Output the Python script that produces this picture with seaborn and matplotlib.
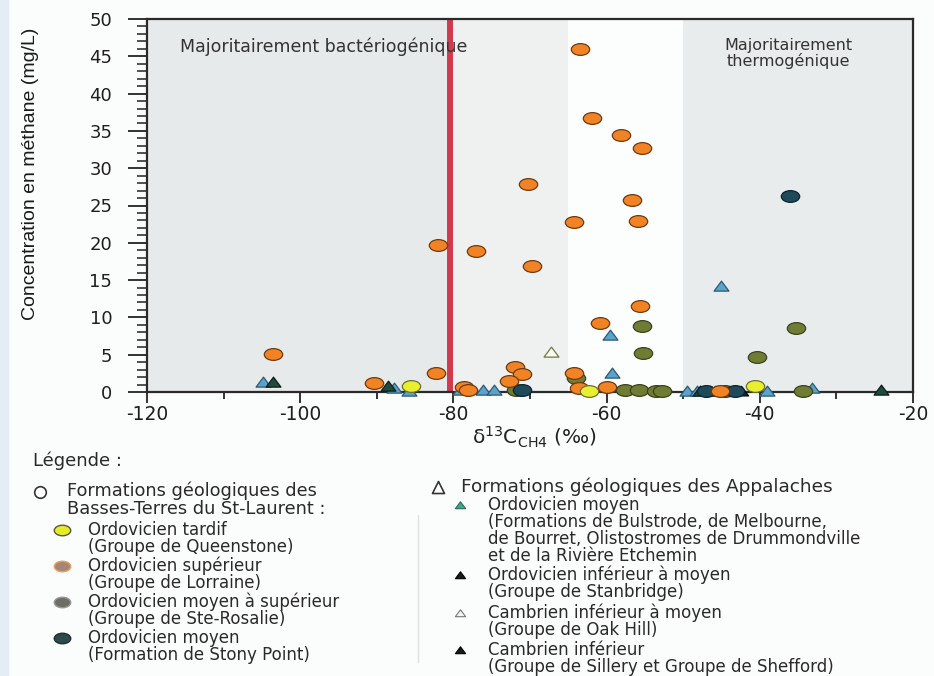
import numpy as np
import pandas as pd
import matplotlib
matplotlib.use("Agg")
import matplotlib.pyplot as plt
from matplotlib.path import Path
from matplotlib.patches import Rectangle
from matplotlib.ticker import MultipleLocator
import seaborn as sns

# ---- data: delta13C of methane (permil) vs methane concentration (mg/L) ----
queenstone_x = [-85.5, -62.3, -40.6]
queenstone_y = [0.8, 0.1, 0.8]

lorraine_x = [-63.5, -61.9, -58.1, -55.4, -70.2, -56.7, -64.3, -55.9, -82.0, -77.0,
              -69.7, -55.6, -60.9, -103.6, -82.3, -72.0, -71.1, -72.8, -90.4, -78.6,
              -64.3, -63.6, -60.0, -78.1, -45.2]
lorraine_y = [46.0, 36.7, 34.4, 32.7, 27.9, 25.7, 22.8, 22.9, 19.7, 18.9,
              16.9, 11.5, 9.2, 5.1, 2.6, 3.4, 2.4, 1.5, 1.2, 0.7,
              2.5, 0.6, 0.7, 0.3, 0.2]

rosalie_x = [-55.4, -55.3, -35.3, -40.4, -64.0, -57.6, -55.8, -53.5, -52.8, -34.4, -71.8, -44.5]
rosalie_y = [8.8, 5.2, 8.6, 4.7, 1.9, 0.3, 0.3, 0.2, 0.2, 0.2, 0.3, 0.2]

stony_x = [-36.0, -71.0, -43.2, -47.0]
stony_y = [26.3, 0.3, 0.2, 0.2]

app_moyen_x = [-104.9, -87.8, -85.8, -79.2, -76.1, -74.7, -59.6, -59.3, -45.0,
               -53.0, -49.5, -48.2, -46.5, -39.0, -33.2]
app_moyen_y = [1.3, 0.5, 0.2, 0.3, 0.3, 0.3, 7.6, 2.5, 14.2,
               0.2, 0.2, 0.2, 0.2, 0.1, 0.5]

stanbridge_x = [-103.5, -88.6, -24.2, -47.8]
stanbridge_y = [1.4, 0.8, 0.3, 0.2]

oakhill_x = [-67.2]
oakhill_y = [5.4]

sillery_x = [-45.8, -42.5]
sillery_y = [0.2, 0.2]

x_ticks = [-120, -100, -80, -60, -40, -20]
y_ticks = [0, 5, 10, 15, 20, 25, 30, 35, 40, 45, 50]

W, H = 934, 676
DPI = 100

sns.set_theme(style="white")
plt.rcParams["font.family"] = ["DejaVu Sans"]

fig = plt.figure(figsize=(W / DPI, H / DPI), dpi=DPI)
fig.patch.set_facecolor("#fbfcfc")
# pale blue strip on the left edge of the figure
fig.patches.append(Rectangle((0, 0), 8 / W, 1, transform=fig.transFigure,
                             color="#e2edf5", zorder=0))


def fx(px):
    return px / W


def fy(py):
    return 1 - py / H


ax = fig.add_axes([fx(147), fy(392), fx(913) - fx(147), fy(19) - fy(392)])
ax.set_facecolor("#fbfcfc")

# shaded zones of the diagram
ax.axvspan(-120, -80.5, color="#e7eaea", lw=0, zorder=0)
ax.axvspan(-80.5, -65, color="#eff1f1", lw=0, zorder=0)
ax.axvspan(-65, -50, color="#fcfdfd", lw=0, zorder=0)
ax.axvspan(-50, -20, color="#e9ecec", lw=0, zorder=0)

# boundary between bacterial and thermogenic methane
ax.axvline(-80.5, color="#cf3b4c", lw=4.3, zorder=2)

# flattened markers
circ = Path.unit_circle()
ellipse = Path(circ.vertices * np.array([1.0, 0.64]), circ.codes)
tri = Path([(-1.0, -0.62), (1.0, -0.62), (0.0, 0.72), (-1.0, -0.62)],
           [Path.MOVETO, Path.LINETO, Path.LINETO, Path.CLOSEPOLY])

groups = [
    ("Appalaches - Ordovicien moyen", app_moyen_x, app_moyen_y, tri, "#5aa3cc", "#2d5a72", 115),
    ("Stanbridge", stanbridge_x, stanbridge_y, tri, "#1f4b3c", "#0d1f18", 115),
    ("Oak Hill", oakhill_x, oakhill_y, tri, "#fbfbf4", "#6f7a3c", 115),
    ("Sillery / Shefford", sillery_x, sillery_y, tri, "#1c2a2a", "#000000", 105),
    ("Ste-Rosalie", rosalie_x, rosalie_y, ellipse, "#6f7c33", "#3b421c", 175),
    ("Stony Point", stony_x, stony_y, ellipse, "#1e4a5a", "#0b2530", 175),
    ("Lorraine", lorraine_x, lorraine_y, ellipse, "#f28324", "#6e3a12", 175),
    ("Queenstone", queenstone_x, queenstone_y, ellipse, "#e8f02e", "#6d6d3a", 175),
]

frames = []
for name, xs, ys, *_ in groups:
    frames.append(pd.DataFrame({"delta13C": xs, "CH4": ys, "groupe": name}))
df = pd.concat(frames, ignore_index=True)

for name, xs, ys, mk, fc, ec, s in groups:
    sub = df[df["groupe"] == name]
    sns.scatterplot(data=sub, x="delta13C", y="CH4", marker=mk, color=fc,
                    edgecolor=ec, linewidth=0.9, s=s, clip_on=False,
                    zorder=3, legend=False, ax=ax)

ax.set_xlim(-120, -20)
ax.set_ylim(0, 50)
ax.set_xlabel("")
ax.set_ylabel("")

ax.xaxis.set_major_locator(plt.FixedLocator(x_ticks))
ax.xaxis.set_minor_locator(MultipleLocator(10))
ax.yaxis.set_major_locator(plt.FixedLocator(y_ticks))
ax.yaxis.set_minor_locator(MultipleLocator(1))
ax.set_xticklabels([str(v) for v in x_ticks])
ax.set_yticklabels([str(v) for v in y_ticks])

ax.tick_params(axis="x", which="major", direction="out", length=8, width=1.3,
               color="#222222", labelsize=13.5, pad=1, labelcolor="#1e1e1e")
ax.tick_params(axis="x", which="minor", direction="out", length=5, width=1.3,
               color="#222222")
ax.tick_params(axis="y", which="major", direction="out", length=14, width=1.3,
               color="#222222", labelsize=13, pad=11, labelcolor="#1e1e1e")
ax.tick_params(axis="y", which="minor", direction="out", length=7.5, width=1.1,
               color="#222222")
ax.tick_params(bottom=True, left=True, which="both")

for side in ["left", "bottom", "top", "right"]:
    ax.spines[side].set_visible(True)
    ax.spines[side].set_color("#2a2a2a")
    ax.spines[side].set_linewidth(1.6)

# zone captions
ax.text(-115.7, 46.3, "Majoritairement bactériogénique", fontsize=12.5,
        color="#333333", ha="left", va="center", zorder=4)
ax.text(-36.3, 45.4, "Majoritairement\nthermogénique", fontsize=11.5,
        color="#333333", ha="center", va="center", linespacing=1.0, zorder=4)

# axis titles
fig.text(fx(31), fy(174), "Concentration en méthane (mg/L)", rotation=90,
         ha="center", va="center", fontsize=14, color="#1a1a1a",
         family=["Liberation Sans", "DejaVu Sans"])
fig.text(fx(534), fy(437), "δ$^{13}$C$_{\\mathregular{CH4}}$ (‰)",
         ha="center", va="center", fontsize=14.5, color="#222222")

# ---- legend block ----
lg = fig.add_axes([0, 0, 1, 1], facecolor="none")
lg.set_xlim(0, W)
lg.set_ylim(H, 0)
lg.axis("off")

lg.plot([418, 418], [515, 662], color="#e0e0e0", lw=1.0)

txt = dict(color="#2a2a2a", va="center", ha="left")
lg.text(33, 461, "Légende :", fontsize=13, **txt)

lg.scatter([40], [492], marker="o", s=70, facecolor="white", edgecolor="#333333", linewidth=1.2)
lg.text(67, 491, "Formations géologiques des", fontsize=12.8, **txt)
lg.text(67, 509, "Basses-Terres du St-Laurent :", fontsize=12.8, **txt)

left_items = [
    (530, "#e4ec2a", "#555555", "Ordovicien tardif", "(Groupe de Queenstone)"),
    (566, "#a48672", "#e9a060", "Ordovicien supérieur", "(Groupe de Lorraine)"),
    (602, "#6e6e68", "#999999", "Ordovicien moyen à supérieur", "(Groupe de Ste-Rosalie)"),
    (638, "#2e4a48", "#1e302e", "Ordovicien moyen", "(Formation de Stony Point)"),
]
for yy, fc, ec, l1, l2 in left_items:
    lg.scatter([62], [yy], marker=ellipse, s=140, facecolor=fc, edgecolor=ec, linewidth=1.0)
    lg.text(88, yy, l1, fontsize=12, **txt)
    lg.text(88, yy + 17, l2, fontsize=12, **txt)

lg.scatter([438], [487], marker="^", s=75, facecolor="white", edgecolor="#333333", linewidth=1.2)
lg.text(461, 487, "Formations géologiques des Appalaches", fontsize=13.3, **txt)

right_items = [
    (505, "#3fa88c", "#2a6b5a", ["Ordovicien moyen",
                                 "(Formations de Bulstrode, de Melbourne,",
                                 "de Bourret, Olistostromes de Drummondville",
                                 "et de la Rivière Etchemin"]),
    (575, "#1a1a1a", "#000000", ["Ordovicien inférieur à moyen",
                                 "(Groupe de Stanbridge)"]),
    (613, "#f4f4f4", "#777777", ["Cambrien inférieur à moyen",
                                 "(Groupe de Oak Hill)"]),
    (650, "#1a1a1a", "#000000", ["Cambrien inférieur",
                                 "(Groupe de Sillery et Groupe de Shefford)"]),
]
for yy, fc, ec, lines in right_items:
    lg.scatter([460], [yy], marker=tri, s=55, facecolor=fc, edgecolor=ec, linewidth=0.8)
    for i, line in enumerate(lines):
        lg.text(488, yy + i * 17, line, fontsize=12, **txt)

fig.savefig("out.png", dpi=DPI, facecolor=fig.get_facecolor())
